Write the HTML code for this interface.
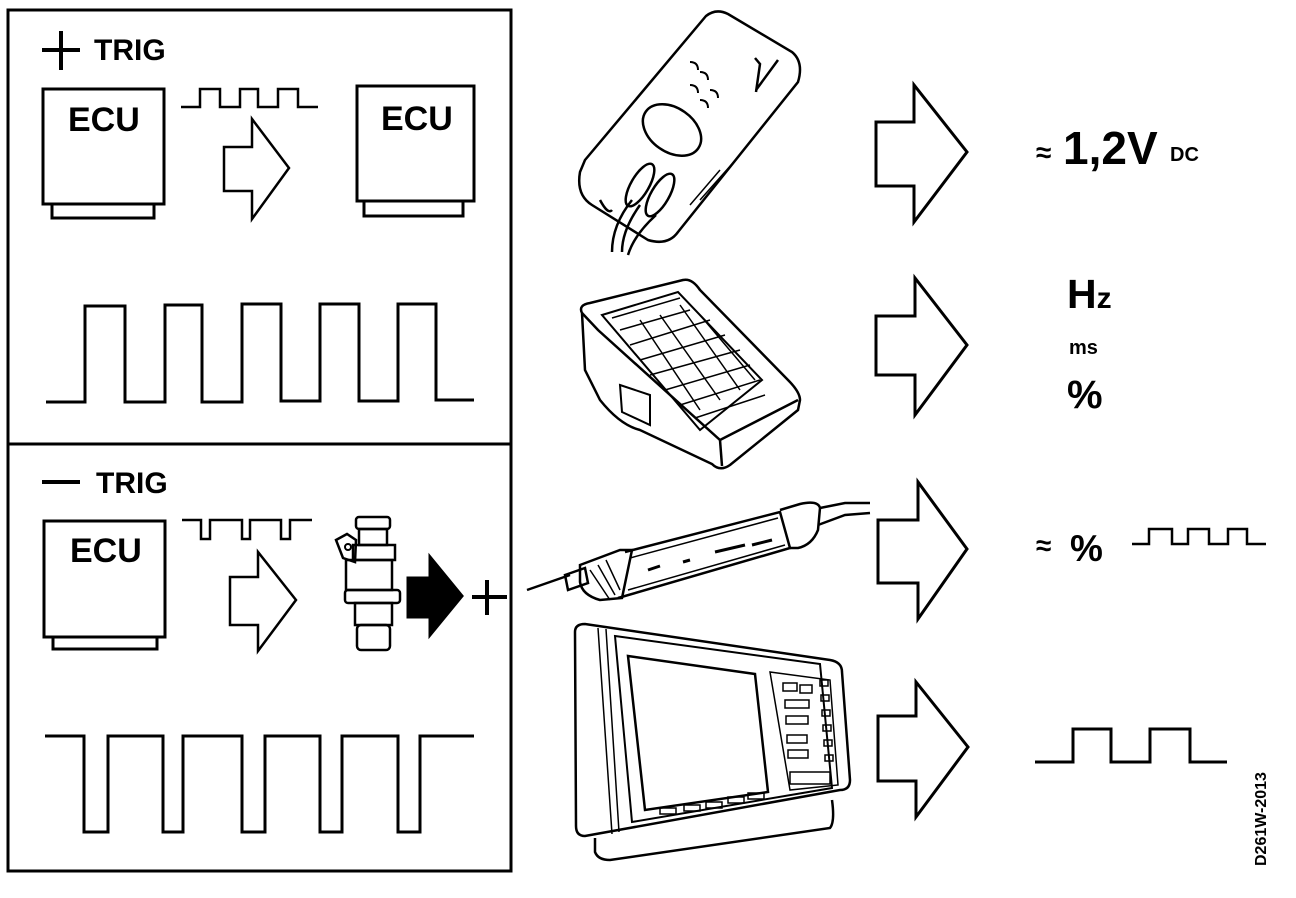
<!DOCTYPE html>
<html><head><meta charset="utf-8"><style>
html,body{margin:0;padding:0;background:#fff;}
svg{display:block;}
text{font-family:"Liberation Sans",Arial,sans-serif;font-weight:bold;fill:#000;}
</style></head><body>
<svg width="1296" height="898" viewBox="0 0 1296 898" xmlns="http://www.w3.org/2000/svg">
<g fill="none" stroke="#000" stroke-width="3" stroke-linejoin="miter">
<rect x="8" y="10" width="503" height="861"/>
<line x1="8" y1="444" x2="511" y2="444"/>

<line x1="42" y1="50" x2="80" y2="50" stroke-width="4"/>
<line x1="61" y1="31" x2="61" y2="70" stroke-width="4"/>
<rect x="43" y="89" width="121" height="115"/>
<polyline points="52,205 52,218 154,218 154,205"/>
<rect x="357" y="86" width="117" height="115"/>
<polyline points="364,202 364,216 463,216 463,202"/>
<polyline points="181,107 200,107 200,89 220,89 220,107 240,107 240,89 258,89 258,107 278,107 278,89 298,89 298,107 318,107" stroke-width="2.5"/>
<polygon points="224,147 252,147 252,119 289,168 252,219 252,191 224,191" stroke-width="2.5"/>
<polyline points="46,402 85,402 85,306 125,306 125,402 165,402 165,305 202,305 202,402 242,402 242,304 281,304 281,401 320,401 320,304 359,304 359,401 398,401 398,304 436,304 436,400 474,400"/>

<line x1="42" y1="482" x2="80" y2="482" stroke-width="4"/>
<rect x="44" y="521" width="121" height="116"/>
<polyline points="53,637 53,649 157,649 157,637"/>
<polyline points="182,520 201,520 201,539 210,539 210,520 242,520 242,539 250,539 250,520 281,520 281,539 290,539 290,520 312,520" stroke-width="2.5"/>
<polygon points="230,577 258,577 258,552 296,600 258,651 258,625 230,625" stroke-width="2.5"/>
<g stroke-width="2.5">
<rect x="356" y="517" width="34" height="12" rx="3"/>
<rect x="359" y="529" width="28" height="16"/>
<rect x="353" y="545" width="42" height="15"/>
<rect x="346" y="560" width="46" height="30"/>
<rect x="345" y="590" width="55" height="13" rx="3"/>
<rect x="355" y="603" width="37" height="22"/>
<rect x="357" y="625" width="33" height="25" rx="4"/>
<polygon points="336,540 347,534 356,540 355,562 343,558"/>
<circle cx="348" cy="547" r="3" stroke-width="2"/>
</g>
<polygon points="408,578 430,578 430,557 462,596 430,635 430,617 408,617" fill="#000"/>
<line x1="472" y1="597" x2="507" y2="597" stroke-width="4"/>
<line x1="487" y1="580" x2="487" y2="615" stroke-width="4"/>
<polyline points="45,736 84,736 84,832 108,832 108,736 163,736 163,832 183,832 183,736 242,736 242,832 265,832 265,736 320,736 320,832 342,832 342,736 398,736 398,832 420,832 420,736 474,736"/>

<polygon points="876,122 914,122 914,85 967,152 914,222 914,186 876,186"/>
<polygon points="876,316 915,316 915,278 967,345 915,415 915,375 876,375"/>
<polygon points="878,520 918,520 918,482 967,549 918,619 918,583 878,583"/>
<polygon points="878,716 916,716 916,682 968,747 916,817 916,781 878,781"/>

<polyline points="1132,544 1149,544 1149,529 1172,529 1172,544 1188,544 1188,529 1209,529 1209,544 1228,544 1228,529 1247,529 1247,544 1266,544" stroke-width="2.5"/>
<polyline points="1035,762 1073,762 1073,729 1111,729 1111,762 1150,762 1150,729 1190,729 1190,762 1227,762"/>

<g stroke-width="2.5">
<path d="M585,160 L706,16 Q716,8 728,14 L792,52 Q804,62 798,82 L678,232 Q668,246 648,240 L592,205 Q576,195 580,172 Z"/>
<path d="M778,60 L756,90 M755,58 L760,64 L756,92"/>
<ellipse cx="672" cy="130" rx="32" ry="22" transform="rotate(35 672 130)"/>
<path d="M690,62 q8,0 8,8 M700,72 q8,0 8,8 M690,85 q8,0 8,8 M710,90 q8,0 8,8 M700,100 q8,0 8,8" stroke-width="2"/>
<ellipse cx="640" cy="185" rx="9" ry="24" transform="rotate(30 640 185)"/>
<ellipse cx="660" cy="195" rx="9" ry="24" transform="rotate(30 660 195)"/>
<path d="M632,200 Q612,225 612,252 M640,205 Q622,230 622,252 M656,215 Q634,235 628,255"/>
<path d="M600,200 Q608,215 612,210"/>
<path d="M720,170 L690,205 M740,155 L700,200" stroke-width="1.5"/>
</g>

<g stroke-width="2.5">
<path d="M582,313 Q578,305 590,303 L683,280 Q692,278 700,290 L788,380 Q800,392 800,400 L798,410 L730,465 Q720,472 712,464 L640,430 Q620,425 600,400 L585,370 Z"/>
<path d="M582,313 L598,330 L720,440 L798,400"/>
<path d="M720,440 L722,466"/>
<path d="M602,315 L678,292 L762,380 L700,430 Z" stroke-width="2"/>
<g stroke-width="1.5">
<path d="M612,318 L680,298 M620,330 L690,310 M630,345 L710,320 M640,360 L725,335 M650,375 L740,350 M665,390 L750,365 M680,405 L760,380 M695,418 L765,395"/>
<path d="M640,320 L700,410 M660,315 L720,400 M680,305 L740,390 M700,315 L755,380"/>
</g>
<path d="M620,385 L650,395 L650,425 L622,412 Z" stroke-width="2"/>
</g>

<g stroke-width="2.5">
<path d="M527,590 L570,575"/>
<path d="M565,575 L585,568 L588,583 L568,590 Z"/>
<path d="M580,565 L620,550 L632,550 L622,598 L600,600 Q582,595 580,582 Z"/>
<path d="M625,552 L780,512 L790,548 L618,598"/>
<path d="M630,558 L778,518 M628,590 L785,545" stroke-width="1.5"/>
<path d="M780,510 L800,504 Q818,500 820,508 L818,530 Q812,545 798,548 L790,548"/>
<path d="M820,508 L845,503 L870,503 M818,525 L845,515 L870,513"/>
<path d="M648,570 L660,566 M683,562 L690,560 M715,552 L745,545 M752,545 L772,540" stroke-width="3"/>
<path d="M590,570 L610,600 M598,565 L615,595 M606,560 L620,590" stroke-width="1.5"/>
</g>

<g stroke-width="2.5">
<path d="M575,632 Q575,624 585,624 L830,660 Q842,662 842,672 L850,780 Q850,790 840,790 L585,836 Q576,836 576,826 Z"/>
<path d="M595,838 L595,852 Q598,860 610,860 L830,828 Q835,822 832,800"/>
<path d="M598,628 L612,834 M606,629 L619,832" stroke-width="1.5"/>
<path d="M615,636 L820,664 L832,788 L632,822 Z" stroke-width="2"/>
<path d="M628,656 L755,674 L768,792 L645,810 Z" stroke-width="2.5"/>
<path d="M770,672 L830,680 L838,785 L790,790 Z" stroke-width="1.5"/>
<g stroke-width="1.5">
<rect x="783" y="683" width="14" height="8"/><rect x="800" y="685" width="12" height="8"/>
<rect x="785" y="700" width="24" height="8"/><rect x="786" y="716" width="22" height="8"/>
<rect x="787" y="735" width="20" height="8"/><rect x="788" y="750" width="20" height="8"/>
<rect x="820" y="680" width="8" height="6"/><rect x="821" y="695" width="8" height="6"/>
<rect x="822" y="710" width="8" height="6"/><rect x="823" y="725" width="8" height="6"/>
<rect x="824" y="740" width="8" height="6"/><rect x="825" y="755" width="8" height="6"/>
<rect x="660" y="808" width="16" height="6"/><rect x="684" y="805" width="16" height="6"/>
<rect x="706" y="802" width="16" height="6"/><rect x="728" y="797" width="16" height="6"/>
<rect x="748" y="793" width="16" height="6"/>
<rect x="790" y="772" width="40" height="12"/>
</g>
</g>
</g>

<text x="94" y="60" font-size="30">TRIG</text>
<text x="68" y="131" font-size="34">ECU</text>
<text x="381" y="130" font-size="34">ECU</text>
<text x="96" y="493" font-size="30">TRIG</text>
<text x="70" y="562" font-size="34">ECU</text>

<text x="1036" y="162" font-size="28" font-weight="normal">≈</text>
<text x="1063" y="164" font-size="46">1,2V</text>
<text x="1170" y="161" font-size="20">DC</text>
<text x="1067" y="308" font-size="41">H<tspan font-size="30">z</tspan></text>
<text x="1069" y="354" font-size="20">ms</text>
<text x="1067" y="408" font-size="40">%</text>
<text x="1036" y="555" font-size="28" font-weight="normal">≈</text>
<text x="1070" y="561" font-size="37">%</text>
<text transform="translate(1266,866) rotate(-90)" font-size="16" font-weight="normal">D261W-2013</text>
</svg>
</body></html>
